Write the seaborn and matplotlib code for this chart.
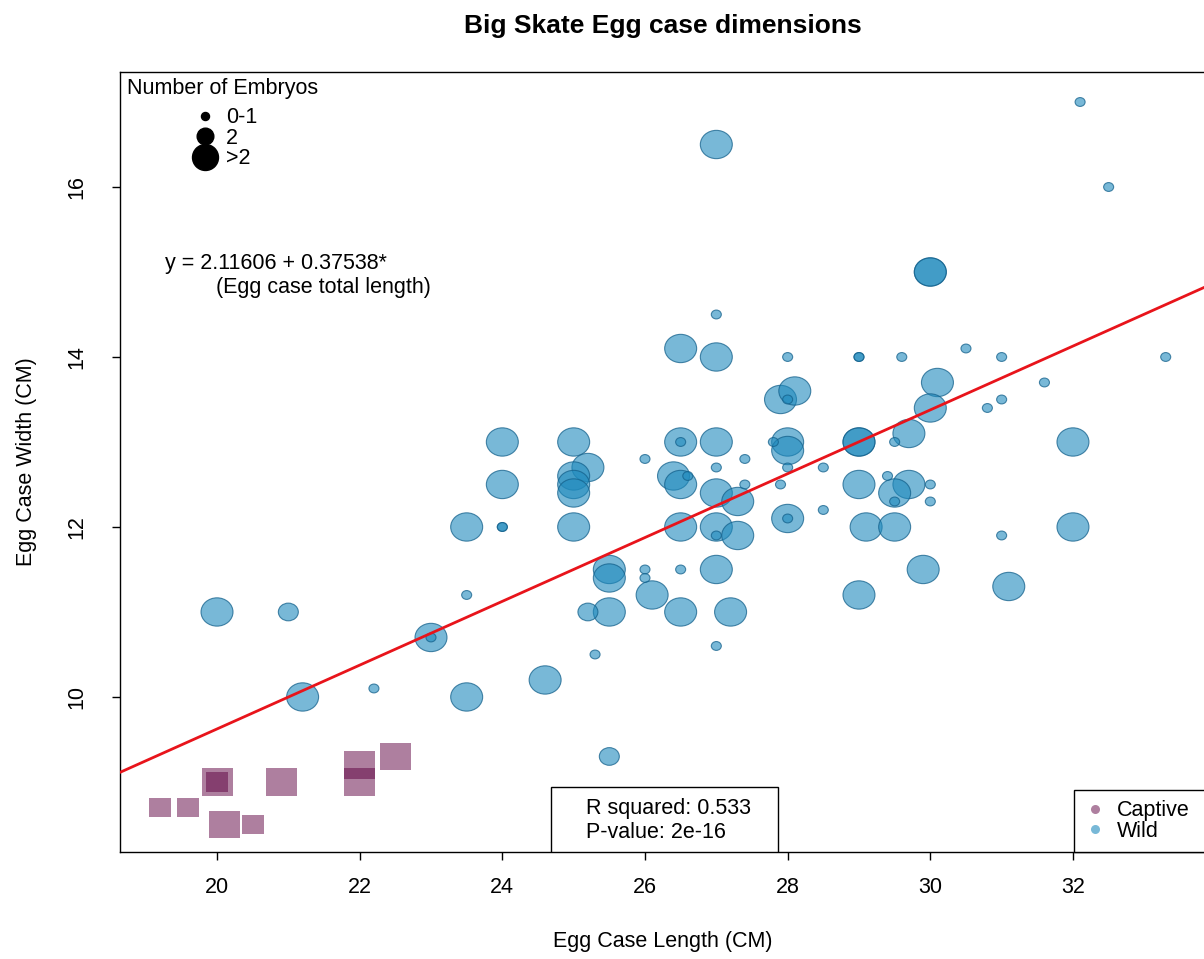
import numpy as np
import pandas as pd
import matplotlib
matplotlib.use("Agg")
import matplotlib.pyplot as plt
import seaborn as sns
from matplotlib.path import Path
from matplotlib.transforms import Affine2D
from matplotlib.lines import Line2D
from matplotlib.patches import Rectangle

# ---------------- data ----------------
wild_length = [20.0, 21.2, 23.0, 23.5, 23.5, 24.0, 24.0, 24.6, 25.0, 25.2,
               25.0, 25.0, 25.0, 25.0, 25.5, 25.5, 25.5, 26.1, 26.5, 26.5,
               26.4, 26.5, 26.5, 26.5, 27.0, 27.0, 27.0, 27.0, 27.0, 27.0,
               27.2, 27.3, 27.3, 27.9, 28.1, 28.0, 28.0, 28.0, 29.0, 29.0,
               29.7, 29.0, 29.7, 29.5, 29.1, 29.5, 29.9, 29.0, 30.0, 30.0,
               30.1, 30.0, 31.1, 32.0, 32.0,
               21.0, 25.2, 25.5,
               22.2, 23.0, 23.5, 24.0, 24.0, 25.3, 26.0, 26.0, 26.0, 26.5,
               26.6, 26.5, 27.0, 27.0, 27.0, 27.0, 27.4, 27.4, 27.8, 27.9,
               28.0, 28.0, 28.0, 28.0, 28.5, 28.5, 29.0, 29.0, 29.6, 29.5,
               29.4, 30.0, 29.5, 30.0, 30.5, 30.8, 31.0, 31.0, 31.6, 31.0,
               32.1, 32.5, 33.3]
wild_width = [11.0, 10.0, 10.7, 10.0, 12.0, 13.0, 12.5, 10.2, 13.0, 12.7,
              12.6, 12.5, 12.4, 12.0, 11.5, 11.4, 11.0, 11.2, 11.0, 12.0,
              12.6, 12.5, 13.0, 14.1, 16.5, 14.0, 13.0, 12.4, 12.0, 11.5,
              11.0, 12.3, 11.9, 13.5, 13.6, 13.0, 12.9, 12.1, 13.0, 13.0,
              13.1, 12.5, 12.5, 12.4, 12.0, 12.0, 11.5, 11.2, 15.0, 15.0,
              13.7, 13.4, 11.3, 13.0, 12.0,
              11.0, 11.0, 9.3,
              10.1, 10.7, 11.2, 12.0, 12.0, 10.5, 12.8, 11.5, 11.4, 13.0,
              12.6, 11.5, 14.5, 12.7, 11.9, 10.6, 12.8, 12.5, 13.0, 12.5,
              14.0, 13.5, 12.7, 12.1, 12.7, 12.2, 14.0, 14.0, 14.0, 13.0,
              12.6, 12.5, 12.3, 12.3, 14.1, 13.4, 14.0, 13.5, 13.7, 11.9,
              17.0, 16.0, 14.0]
wild_embryos = [">2"] * 55 + ["2"] * 3 + ["0-1"] * 43

captive_length = [20.0, 20.9, 22.0, 22.0, 22.5, 20.1, 20.0, 19.2, 19.6, 20.5]
captive_width = [9.0, 9.0, 9.2, 9.0, 9.3, 8.5, 9.0, 8.7, 8.7, 8.5]
captive_embryos = [">2", ">2", ">2", ">2", ">2", ">2", "2", "2", "2", "2"]

size_levels = ["0-1", "2", ">2"]
group_labels = ["Captive", "Wild"]
intercept = 2.11606
slope = 0.37538
r_squared = "0.533"
p_value = "2e-16"
x_ticks = [20, 22, 24, 26, 28, 30, 32]
y_ticks = [10, 12, 14, 16]

# ---------------- styling ----------------
sns.set_style("white")
plt.rcParams["font.family"] = ["Liberation Sans", "DejaVu Sans"]
plt.rcParams["text.color"] = "black"
plt.rcParams["axes.labelcolor"] = "black"
plt.rcParams["xtick.color"] = "black"
plt.rcParams["ytick.color"] = "black"
FS = 15.5

wild_face = (0.12, 0.54, 0.74, 0.60)
wild_edge = (0.08, 0.38, 0.55, 0.75)
capt_face = (0.37, 0.0, 0.25, 0.50)

stretch = 1.13
ellipse = Affine2D().scale(stretch, 1.0).transform_path(Path.unit_circle())
rect = Path([(-stretch, -1), (stretch, -1), (stretch, 1), (-stretch, 1), (-stretch, -1)],
            [Path.MOVETO, Path.LINETO, Path.LINETO, Path.LINETO, Path.CLOSEPOLY])

wild_sizes = {"0-1": 52, "2": 207, ">2": 530}
capt_sizes = {"2": 250, ">2": 498}

W, H = 1204, 959
fig = plt.figure(figsize=(W / 100, H / 100), dpi=100)
ax = fig.add_axes([120 / W, 107 / H, 1086 / W, 780 / H])

wild_df = pd.DataFrame({"length": wild_length, "width": wild_width, "embryos": wild_embryos})
capt_df = pd.DataFrame({"length": captive_length, "width": captive_width, "embryos": captive_embryos})

sns.scatterplot(data=capt_df, x="length", y="width", size="embryos", sizes=capt_sizes,
                size_order=["2", ">2"], marker=rect, legend=False, ax=ax, zorder=2)
coll = ax.collections[-1]
coll.set_alpha(None)
coll.set_facecolor(capt_face)
coll.set_edgecolor("none")

sns.scatterplot(data=wild_df, x="length", y="width", size="embryos", sizes=wild_sizes,
                size_order=size_levels, marker=ellipse, legend=False, ax=ax, zorder=2)
coll = ax.collections[-1]
coll.set_alpha(None)
coll.set_facecolor(wild_face)
coll.set_edgecolor(wild_edge)
coll.set_linewidth(0.8)

# regression line
ax.axline((0, intercept), slope=slope, color="#E8141B", lw=2.0, zorder=3)

ax.set_xlim(18.640, 33.865)
ax.set_ylim(8.176, 17.353)
ax.set_xticks(x_ticks)
ax.set_yticks(y_ticks)
ax.tick_params(axis="both", direction="out", length=5.8, width=1.0, color="black",
               labelsize=FS, bottom=True, left=True)
ax.tick_params(axis="x", pad=12)
ax.tick_params(axis="y", pad=18)
for lab in ax.get_yticklabels():
    lab.set_rotation(90)
    lab.set_va("center")
for side in ["top", "left", "bottom", "right"]:
    ax.spines[side].set_color("black")
    ax.spines[side].set_linewidth(1.0)

ax.set_xlabel("Egg Case Length (CM)", fontsize=FS)
ax.set_ylabel("Egg Case Width (CM)", fontsize=FS)
ax.xaxis.set_label_coords(0.5, -0.101)
ax.yaxis.set_label_coords(-0.0764, 0.5)
ax.set_title("Big Skate Egg case dimensions", fontsize=19, fontweight="bold", pad=28)

# size legend
ax.text(0.0064, 0.979, "Number of Embryos", transform=ax.transAxes, ha="left",
        va="center", fontsize=FS)
size_handles = [Line2D([], [], ls="none", marker="o", color="black", markersize=ms)
                for ms in (5.8, 12.0, 18.7)]
leg1 = ax.legend(size_handles, size_levels, loc="upper left",
                 bbox_to_anchor=(0.0687, 0.9545), frameon=False, fontsize=FS,
                 handlelength=1.0, handletextpad=0.46, labelspacing=-0.03,
                 borderpad=0, borderaxespad=0)
ax.add_artist(leg1)

# group legend
grp_handles = [Line2D([], [], ls="none", marker="o", markersize=6.5,
                      markerfacecolor=capt_face, markeredgecolor="none"),
               Line2D([], [], ls="none", marker="o", markersize=6.5,
                      markerfacecolor=wild_face, markeredgecolor="none")]
leg2 = ax.legend(grp_handles, group_labels, loc="lower left",
                 bbox_to_anchor=(0.8785, 0.0, 0.16, 0.0833), mode="expand",
                 frameon=True, fancybox=False, framealpha=1, edgecolor="black",
                 fontsize=FS, handlelength=1.0, handletextpad=0.5,
                 labelspacing=-0.02, borderpad=0.48, borderaxespad=0)
leg2.get_frame().set_linewidth(1.0)

# statistics box
ax.add_patch(Rectangle((0.3969, 0.0), 0.2090, 0.0833, transform=ax.transAxes,
                       facecolor="white", edgecolor="black", lw=1.0, zorder=4))
ax.text(0.4291, 0.0405, f"R squared: {r_squared}\nP-value: {p_value}",
        transform=ax.transAxes, ha="left", va="center", fontsize=FS,
        linespacing=1.22, zorder=5)

# equation
ax.text(0.0414, 0.7551, f"y = {intercept} + {slope}*", transform=ax.transAxes,
        ha="left", va="center", fontsize=FS)
ax.text(0.0884, 0.7231, "(Egg case total length)", transform=ax.transAxes,
        ha="left", va="center", fontsize=FS)

fig.savefig("out.png", dpi=100)
